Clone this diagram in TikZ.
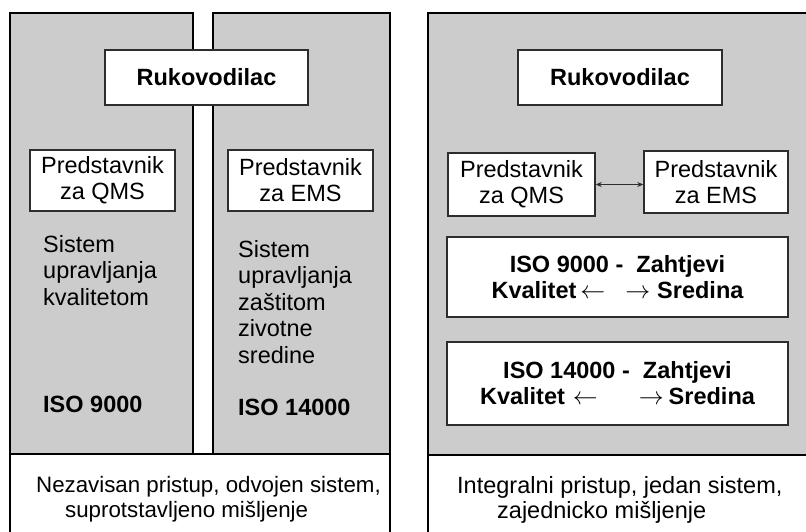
\documentclass[tikz,border=0pt]{standalone}
\usepackage{fontspec}
\setmainfont{Liberation Sans}
\usetikzlibrary{arrows.meta}
\definecolor{panelgray}{RGB}{204,204,204}
\definecolor{boxline}{RGB}{45,45,45}
\begin{document}
\begin{tikzpicture}[x=1pt,y=-1pt,
  panel/.style={draw=black, line width=1.8pt, fill=panelgray},
  plainpanel/.style={draw=black, line width=1.8pt, fill=white},
  wbox/.style={draw=boxline, line width=1.4pt, fill=white, inner sep=0pt, align=center,
    font=\fontsize{23.5}{26}\selectfont},
  bbox/.style={wbox, font=\fontsize{23.5}{26}\selectfont\bfseries},
  coltext/.style={inner sep=0pt, anchor=north west, align=left,
    font=\fontsize{23.5}{26.5}\selectfont},
  isotext/.style={inner sep=0pt, anchor=base west, font=\fontsize{23.5}{26}\selectfont\bfseries},
  notetext/.style={inner sep=0pt, anchor=north west, align=left},
  link/.style={{Stealth[length=6pt,width=5pt]}-{Stealth[length=6pt,width=5pt]}, line width=1pt, draw=boxline}
]
\useasboundingbox (0,0) rectangle (806,531);
\clip (0,0) rectangle (806,531);
\fill[white] (0,0) rectangle (806,531);

% left panel: separate system
\draw[panel] (10,13) rectangle (193,454);
\draw[panel] (213,13) rectangle (390,454);
\draw[plainpanel] (10,454) rectangle (390,545);

% right panel: integrated system
\draw[panel] (428,13) rectangle (822,455);
\draw[plainpanel] (428,455) rectangle (822,545);

% left panel contents
\node[bbox, minimum width=203pt, minimum height=55pt] (rukL) at (206.5,77.5) {Rukovodilac};
\node[wbox, minimum width=145pt, minimum height=61pt] (qmsL) at (102.5,180.5) {Predstavnik\\za QMS};
\node[wbox, minimum width=145pt, minimum height=61pt] (emsL) at (300.5,180.5) {Predstavnik\\za EMS};
\node[coltext] (sisL) at (43,235) {Sistem\\upravljanja\\kvalitetom};
\node[coltext] (sisR) at (238,240) {Sistem\\upravljanja\\zaštitom\\zivotne\\sredine};
\node[isotext] (isoL) at (43,412) {ISO 9000};
\node[isotext] (isoR) at (238,415) {ISO 14000};
\node[notetext, font=\fontsize{22.3}{25}\selectfont] (noteL) at (36,476)
  {Nezavisan pristup, odvojen sistem,\\\hspace*{29pt}suprotstavljeno mišljenje};

% right panel contents
\node[bbox, minimum width=204pt, minimum height=55pt] (rukR) at (620,77.5) {Rukovodilac};
\node[wbox, minimum width=147pt, minimum height=63pt] (qmsR) at (521.5,184.5) {Predstavnik\\za QMS};
\node[wbox, minimum width=144pt, minimum height=62pt] (emsR) at (716,182) {Predstavnik\\za EMS};
\draw[link] (qmsR.east) -- (qmsR.east -| emsR.west);
\node[bbox, minimum width=341pt, minimum height=80pt] (iso9) at (617.5,277)
  {ISO 9000 -\ \ Zahtjevi\\Kvalitet\hspace{4pt}$\leftarrow$\hspace{20pt}$\rightarrow$\hspace{7pt}Sredina};
\node[bbox, minimum width=341pt, minimum height=83pt] (iso14) at (617.5,383.5)
  {ISO 14000 -\ \ Zahtjevi\\Kvalitet\hspace{8pt}$\leftarrow$\hspace{41pt}$\rightarrow$\hspace{5pt}Sredina};
\node[notetext, font=\fontsize{23.5}{25}\selectfont] (noteR) at (457,476)
  {Integralni pristup, jedan sistem,\\\hspace*{40pt}zajednicko mišljenje};
\end{tikzpicture}
\end{document}
